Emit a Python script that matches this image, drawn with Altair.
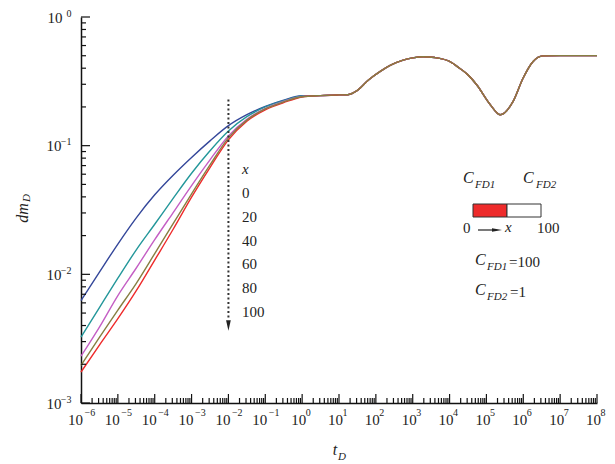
import altair as alt
import pandas as pd

# ---------------- data ----------------
t_early = [1e-6, 3.162e-6, 1e-5, 3.162e-5, 1e-4, 3.162e-4, 1e-3, 3.162e-3,
           1e-2, 3.162e-2, 1e-1, 3.162e-1, 1e0]
dm_x0 = [0.00625, 0.0104, 0.0172, 0.0275, 0.0415, 0.0589, 0.0810, 0.109,
         0.143, 0.174, 0.202, 0.226, 0.244]
dm_x20 = [0.00325, 0.00552, 0.00933, 0.0155, 0.0245, 0.0389, 0.0610, 0.0912,
          0.130, 0.168, 0.200, 0.224, 0.243]
dm_x40 = [0.00231, 0.00389, 0.00684, 0.0112, 0.0186, 0.0302, 0.0490, 0.0776,
          0.119, 0.160, 0.195, 0.221, 0.241]
dm_x60 = [0.00196, 0.00324, 0.00527, 0.00851, 0.0145, 0.0248, 0.0422, 0.0708,
          0.115, 0.158, 0.193, 0.219, 0.240]
dm_x80 = [0.00174, 0.00282, 0.00452, 0.00746, 0.0129, 0.0224, 0.0398, 0.0676,
          0.111, 0.155, 0.190, 0.216, 0.239]

# common late-time response (all curves coincide)
t_late = [3.162, 10.0, 17.38, 31.62, 63.1, 128.8, 251.2, 549.5, 1000.0,
          1905.0, 3981.0, 1e4, 1.905e4, 3.162e4, 5.495e4, 1.259e5, 2.344e5,
          5.248e5, 9.772e5, 1.820e6, 3.388e6, 1e7, 1e8]
dm_late = [0.245, 0.248, 0.249, 0.269, 0.324, 0.376, 0.422, 0.462, 0.481,
           0.491, 0.484, 0.452, 0.398, 0.355, 0.296, 0.209, 0.174, 0.220, 0.333,
           0.449, 0.499, 0.501, 0.501]

x_labels = ["0", "20", "40", "60", "80", "100"]

x_major = [10.0 ** n for n in range(-6, 9)]
x_minor = [k * 10.0 ** n for n in range(-6, 8) for k in range(2, 10)]
y_major = [10.0 ** n for n in range(-3, 1)]
y_minor = [k * 10.0 ** n for n in range(-3, 0) for k in range(2, 10)]

arrow_t = [1e-2]
arrow_top = [0.228]
arrow_bottom = [0.0045]
arrow_tip = [0.0040]

# ---------------- styling ----------------
W, H = 516, 386
SERIF = "Liberation Serif"


def exp_expr():
    return "replace(format(round(log(datum.value)/LN10), 'd'), '-', '\u2212')"


XSCALE = alt.Scale(type="log", domain=[1e-6, 1e8], nice=False)
YSCALE = alt.Scale(type="log", domain=[1e-3, 1], nice=False)

AX_COMMON = dict(ticks=False, grid=False, title=None, labelFont=SERIF,
                 labelColor="#222", labelFlush=False, labelOverlap=False)


def X(kind=None):
    if kind is None:
        return alt.X("t:Q", scale=XSCALE, axis=None)
    if kind == "neg":
        ax = alt.Axis(orient="bottom", values=[v for v in x_major if v < 1],
                      labelExpr="'10'", labelFontSize=15, labelPadding=9,
                      labelOffset=-6, domainColor="#111", domainWidth=1.5, **AX_COMMON)
    elif kind == "pos":
        ax = alt.Axis(orient="bottom", values=[v for v in x_major if v >= 1],
                      labelExpr="'10'", labelFontSize=15, labelPadding=9,
                      labelOffset=-4, domain=False, **AX_COMMON)
    else:
        ax = alt.Axis(orient="bottom", values=x_major, labelExpr=exp_expr(),
                      labelFontSize=10, labelPadding=4, labelAlign="left",
                      labelOffset=3, domain=False, **AX_COMMON)
    return alt.X("t:Q", scale=XSCALE, axis=ax)


def Y(kind=None):
    if kind is None:
        return alt.Y("dm:Q", scale=YSCALE, axis=None)
    if kind == "neg":
        ax = alt.Axis(orient="left", values=[v for v in y_major if v < 1],
                      labelExpr="'10'", labelFontSize=15, labelPadding=20,
                      labelAlign="right", labelBaseline="middle",
                      domainColor="#111", domainWidth=1.5, **AX_COMMON)
    elif kind == "pos":
        ax = alt.Axis(orient="left", values=[1.0],
                      labelExpr="'10'", labelFontSize=15, labelPadding=19,
                      labelAlign="right", labelBaseline="middle",
                      domain=False, **AX_COMMON)
    else:
        ax = alt.Axis(orient="left", values=y_major, labelExpr=exp_expr(),
                      labelFontSize=10, labelPadding=10, labelAlign="right",
                      labelBaseline="middle", labelOffset=-4, domain=False, **AX_COMMON)
    return alt.Y("dm:Q", scale=YSCALE, axis=ax)


one = pd.DataFrame({"_": [0]})


def txt(s, x, y, size=15, italic=False, align="left", angle=0):
    kw = dict(text=s, font=SERIF, fontSize=size, color="#222", align=align,
              baseline="middle")
    if italic:
        kw["fontStyle"] = "italic"
    if angle:
        kw["angle"] = angle
    return alt.Chart(one).mark_text(**kw).encode(x=alt.value(x), y=alt.value(y))


series = [(dm_x0, "#34479a", "neg"), (dm_x20, "#23979a", "pos"),
          (dm_x40, "#c45ec4", "exp"), (dm_x80, "#ee2b2b", None),
          (dm_x60, "#877f42", None)]

layers = []
for vals, col, kind in series:
    df = pd.DataFrame({"t": t_early + t_late, "dm": vals + dm_late})
    layers.append(alt.Chart(df).mark_line(color=col, strokeWidth=1.4,
                                          interpolate="monotone")
                  .encode(x=X(kind), y=Y(kind)))

# inward ticks
layers.append(alt.Chart(pd.DataFrame({"t": x_major})).mark_rule(color="#111", strokeWidth=1.2)
              .encode(x=X(), y=alt.value(H), y2=alt.value(H - 9)))
layers.append(alt.Chart(pd.DataFrame({"t": x_minor})).mark_rule(color="#111", strokeWidth=1.2)
              .encode(x=X(), y=alt.value(H), y2=alt.value(H - 5)))
layers.append(alt.Chart(pd.DataFrame({"dm": y_major})).mark_rule(color="#111", strokeWidth=1.2)
              .encode(y=Y(), x=alt.value(0), x2=alt.value(9)))
layers.append(alt.Chart(pd.DataFrame({"dm": y_minor})).mark_rule(color="#111", strokeWidth=1.2)
              .encode(y=Y(), x=alt.value(0), x2=alt.value(5)))

# dotted arrow
arr = pd.DataFrame({"t": arrow_t, "dm": arrow_top, "dm2": arrow_bottom})
layers.append(alt.Chart(arr).mark_rule(color="#333", strokeWidth=2, strokeDash=[2, 2.5])
              .encode(x=X(), y=Y(), y2="dm2:Q"))
layers.append(alt.Chart(pd.DataFrame({"t": arrow_t, "dm": arrow_tip}))
              .mark_point(shape="M-0.45,-1L0.45,-1L0,1Z", size=110, filled=True,
                          color="#222", opacity=1)
              .encode(x=X(), y=Y()))

# x labels column
layers.append(txt("x", 161, 152, italic=True))
for i, s in enumerate(x_labels):
    layers.append(txt(s, 161, 176 + i * 23.8))

# schematic
layers.append(txt("C", 382, 161, size=16, italic=True))
layers.append(txt("FD1", 394, 168, size=11, italic=True))
layers.append(txt("C", 442, 161, size=16, italic=True))
layers.append(txt("FD2", 455, 168, size=11, italic=True))
layers.append(alt.Chart(one).mark_rect(color="#ee2b2b", stroke="#333", strokeWidth=1)
              .encode(x=alt.value(392), x2=alt.value(426), y=alt.value(187), y2=alt.value(200)))
layers.append(alt.Chart(one).mark_rect(color="white", stroke="#333", strokeWidth=1)
              .encode(x=alt.value(426), x2=alt.value(460), y=alt.value(187), y2=alt.value(200)))
layers.append(txt("0", 382, 211))
layers.append(alt.Chart(one).mark_rule(color="#222", strokeWidth=1.2)
              .encode(x=alt.value(397), x2=alt.value(413), y=alt.value(213)))
layers.append(alt.Chart(one).mark_point(shape="M-1,-0.35L1,0L-1,0.35Z", size=100,
                                        filled=True, color="#222", opacity=1)
              .encode(x=alt.value(416), y=alt.value(213)))
layers.append(txt("x", 424, 210, italic=True))
layers.append(txt("100", 456, 211))
layers.append(txt("C", 394, 243, size=16, italic=True))
layers.append(txt("FD1", 406, 250, size=11, italic=True))
layers.append(txt("=100", 428, 245))
layers.append(txt("C", 394, 273, size=16, italic=True))
layers.append(txt("FD2", 406, 280, size=11, italic=True))
layers.append(txt("=1", 429, 275))

# axis titles
layers.append(txt("t", 254, 433, size=16, italic=True, align="center"))
layers.append(txt("D", 261, 440, size=11, italic=True, align="center"))
layers.append(txt("dm", -58, 196, size=16, italic=True, align="center", angle=270))
layers.append(txt("D", -54, 181, size=11, italic=True, align="center", angle=270))

chart = alt.layer(*layers).resolve_axis(x="independent", y="independent").properties(
    width=W, height=H,
    autosize=alt.AutoSizeParams(type="none"),
    padding={"left": 73, "top": 9, "right": 10, "bottom": 60},
).configure_view(stroke=None)

chart.save("out.html", embed_options={"renderer": "svg", "actions": False})
